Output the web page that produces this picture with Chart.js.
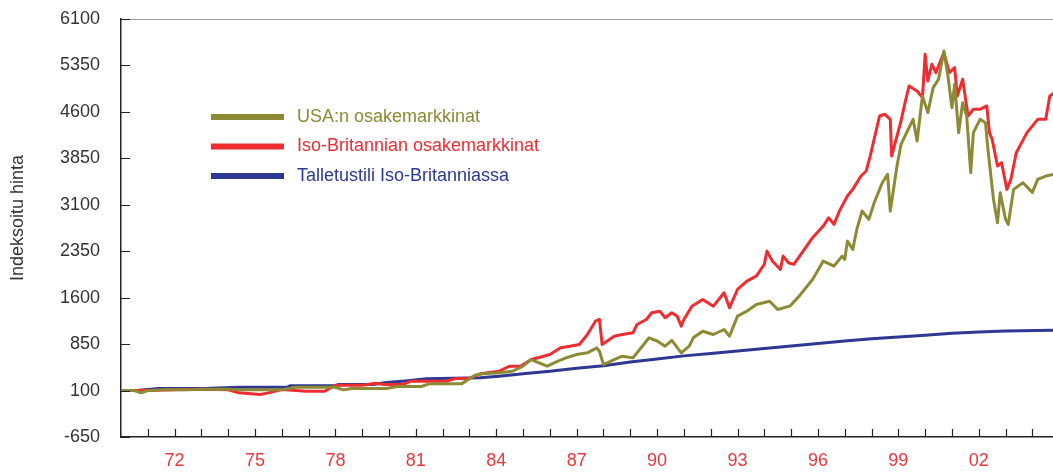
<!DOCTYPE html>
<html>
<head>
<meta charset="utf-8">
<script src="https://cdn.jsdelivr.net/npm/chart.js@4"></script>
<style>
  html, body { margin: 0; padding: 0; background: #fff; }
</style>
</head>
<body>
<canvas id="canvas" width="1053" height="472"></canvas>
<script>
// colours
let olive = "rgb(140, 138, 52)";
let red = "rgb(237, 45, 50)";
let blue = "rgb(46, 56, 146)";

var seriesNames = ["USA:n osakemarkkinat", "Iso-Britannian osakemarkkinat", "Talletustili Iso-Britanniassa"];
var yTicks = [-650, 100, 850, 1600, 2350, 3100, 3850, 4600, 5350, 6100];
var labelYears = [1972, 1975, 1978, 1981, 1984, 1987, 1990, 1993, 1996, 1999, 2002];
var yearLabels = ["72", "75", "78", "81", "84", "87", "90", "93", "96", "99", "02"];

// USA stock market
var usaYears = [1970.0, 1970.5, 1970.75, 1971.0, 1971.5, 1972.5, 1973.0, 1974.0, 1974.5, 1976.0,
  1976.5, 1978.0, 1978.3, 1978.6, 1979.9, 1980.3, 1981.2, 1981.5, 1982.7, 1983.2,
  1983.5, 1984.1, 1984.6, 1985.0, 1985.3, 1985.6, 1985.9, 1986.3, 1986.6, 1987.0,
  1987.4, 1987.75, 1987.85, 1988.0, 1988.4, 1988.7, 1989.1, 1989.5, 1989.7, 1990.0,
  1990.3, 1990.55, 1990.9, 1991.2, 1991.35, 1991.7, 1992.1, 1992.5, 1992.7, 1993.0,
  1993.35, 1993.7, 1994.2, 1994.5, 1994.95, 1995.3, 1995.8, 1996.2, 1996.6, 1996.9,
  1997.0, 1997.1, 1997.3, 1997.45, 1997.65, 1997.9, 1998.1, 1998.4, 1998.6, 1998.7,
  1998.95, 1999.1, 1999.4, 1999.55, 1999.7, 1999.9, 2000.1, 2000.3, 2000.5, 2000.7,
  2000.85, 2001.0, 2001.1, 2001.25, 2001.4, 2001.55, 2001.7, 2001.8, 2002.05, 2002.25,
  2002.35, 2002.55, 2002.7, 2002.8, 2003.0, 2003.1, 2003.3, 2003.65, 2004.0, 2004.2,
  2004.5, 2004.8];
var usaValues = [100, 100, 63, 100, 111, 111, 121, 121, 111, 111,
  153, 153, 111, 132, 132, 165, 165, 208, 208, 347,
  370, 386, 412, 493, 601, 548, 493, 574, 628, 682,
  709, 790, 735, 520, 601, 655, 628, 843, 952, 900,
  816, 910, 709, 816, 952, 1058, 1005, 1086, 978, 1301,
  1382, 1490, 1543, 1409, 1463, 1625, 1894, 2191, 2110, 2271,
  2218, 2513, 2379, 2702, 3000, 2864, 3133, 3456, 3591, 2998,
  3726, 4076, 4345, 4480, 4130, 4857, 4588, 4991, 5127, 5584,
  5180, 4669, 5045, 4265, 4749, 4534, 3618, 4265, 4480, 4426,
  3968, 3187, 2810, 3294, 2864, 2783, 3349, 3456, 3300, 3510,
  3564, 3591];

// UK stock market
var ukYears = [1970.0, 1971.0, 1972.0, 1973.0, 1974.0, 1974.4, 1975.2, 1975.5, 1976.0, 1976.9,
  1977.6, 1978.0, 1979.0, 1979.5, 1979.8, 1980.5, 1980.8, 1982.1, 1982.5, 1983.0,
  1983.4, 1984.1, 1984.5, 1984.9, 1985.3, 1985.6, 1986.0, 1986.4, 1986.75, 1987.1,
  1987.4, 1987.7, 1987.85, 1987.95, 1988.4, 1988.7, 1989.1, 1989.25, 1989.6, 1989.8,
  1990.1, 1990.3, 1990.55, 1990.75, 1990.9, 1991.0, 1991.3, 1991.7, 1992.1, 1992.5,
  1992.7, 1993.0, 1993.35, 1993.7, 1994.0, 1994.1, 1994.3, 1994.6, 1994.7, 1994.9,
  1995.1, 1995.45, 1995.8, 1996.2, 1996.4, 1996.6, 1996.8, 1997.1, 1997.3, 1997.6,
  1997.8, 1997.95, 1998.3, 1998.5, 1998.7, 1998.75, 1999.1, 1999.25, 1999.4, 1999.7,
  1999.9, 2000.0, 2000.1, 2000.25, 2000.4, 2000.7, 2000.9, 2001.1, 2001.2, 2001.4,
  2001.6, 2001.8, 2002.05, 2002.3, 2002.4, 2002.5, 2002.7, 2002.85, 2003.05, 2003.2,
  2003.4, 2003.8, 2004.2, 2004.5, 2004.65, 2004.8];
var ukValues = [100, 100, 111, 121, 111, 63, 35, 63, 116, 89,
  89, 186, 186, 218, 197, 197, 250, 250, 294, 294,
  370, 412, 493, 493, 601, 633, 682, 790, 816, 843,
  1005, 1220, 1248, 843, 978, 1005, 1032, 1167, 1248, 1356,
  1382, 1275, 1356, 1301, 1139, 1248, 1463, 1571, 1463, 1679,
  1436, 1732, 1867, 1948, 2137, 2352, 2191, 2056, 2271, 2164,
  2137, 2352, 2568, 2756, 2891, 2783, 2998, 3241, 3349, 3560,
  3645, 3887, 4534, 4561, 4480, 3887, 4453, 4749, 5018, 4937,
  4830, 5530, 5099, 5369, 5234, 5557, 5234, 5315, 4857, 5127,
  4534, 4642, 4642, 4696, 4265, 4157, 3726, 3780, 3349, 3510,
  3941, 4265, 4480, 4480, 4857, 4900];

// UK deposit account
var depositYears = [1970.0, 1970.6, 1971.4, 1973.1, 1974.4, 1976.2, 1976.3, 1978.0, 1978.1, 1979.4,
  1979.9, 1980.6, 1981.4, 1983.4, 1984.1, 1985, 1986, 1987, 1988, 1989,
  1990, 1991, 1992, 1993, 1994, 1995, 1996, 1997, 1998, 1999,
  2000, 2001, 2002, 2003, 2004.8];
var depositValues = [100, 100, 132, 132, 153, 153, 176, 176, 197, 197,
  229, 256, 289, 305, 330, 370, 410, 460, 500, 560,
  610, 660, 700, 740, 780, 820, 860, 900, 935, 965,
  995, 1025, 1045, 1060, 1075];

function points(xs, ys) {
  return xs.map(function (x, i) { return { x: x, y: ys[i] }; });
}

const decorations = {
  id: "decorations",
  afterDraw(chart) {
    const ctx = chart.ctx;
    const area = chart.chartArea;
    const xs = chart.scales.x;
    const ys = chart.scales.y;
    ctx.save();
    // top frame line
    ctx.strokeStyle = "#999";
    ctx.lineWidth = 1;
    ctx.beginPath();
    ctx.moveTo(area.left, area.top + 0.5);
    ctx.lineTo(area.right, area.top + 0.5);
    ctx.stroke();
    // inward tick marks
    ctx.strokeStyle = "#222";
    ctx.lineWidth = 1.2;
    ctx.beginPath();
    for (let yr = 1971; yr <= 2004; yr++) {
      const px = Math.round(xs.getPixelForValue(yr)) + 0.5;
      ctx.moveTo(px, area.bottom);
      ctx.lineTo(px, area.bottom - 8);
    }
    yTicks.forEach(function (v) {
      const py = Math.round(ys.getPixelForValue(v)) + 0.5;
      ctx.moveTo(area.left, py);
      ctx.lineTo(area.left + 9, py);
    });
    ctx.stroke();
    // y axis title
    ctx.fillStyle = "#333";
    ctx.font = "18px 'Liberation Sans', Arial, sans-serif";
    ctx.textAlign = "center";
    ctx.textBaseline = "middle";
    ctx.translate(18, 218);
    ctx.rotate(-Math.PI / 2);
    ctx.fillText("Indeksoitu hinta", 0, 0);
    ctx.setTransform(1, 0, 0, 1, 0, 0);
    // legend
    ctx.textAlign = "left";
    chart.data.datasets.forEach(function (ds, i) {
      const cy = 117 + i * 29.5;
      ctx.strokeStyle = ds.borderColor;
      ctx.lineWidth = 6;
      ctx.beginPath();
      ctx.moveTo(211, cy);
      ctx.lineTo(284, cy);
      ctx.stroke();
      ctx.fillStyle = ds.borderColor;
      ctx.fillText(ds.label, 297, cy);
    });
    ctx.restore();
  }
};

Chart.defaults.font.family = "'Liberation Sans', Arial, sans-serif";
Chart.defaults.font.size = 18;

const ctx = document.getElementById("canvas").getContext("2d");
const myChart = new Chart(ctx, {
  type: "line",
  data: {
    datasets: [
      { label: seriesNames[0], data: points(usaYears, usaValues), borderColor: olive },
      { label: seriesNames[1], data: points(ukYears, ukValues), borderColor: red },
      { label: seriesNames[2], data: points(depositYears, depositValues), borderColor: blue },
    ],
  },
  options: {
    responsive: false,
    animation: false,
    layout: { padding: { top: 19, right: 0, left: 0, bottom: 0 } },
    elements: {
      point: { radius: 0 },
      line: { borderWidth: 3, tension: 0, borderJoinStyle: "round" },
    },
    plugins: {
      legend: { display: false },
      tooltip: { enabled: false },
    },
    scales: {
      x: {
        type: "linear",
        min: 1970,
        max: 2004.77,
        grid: { display: false },
        border: { display: true, color: "#222", width: 1.5 },
        afterBuildTicks: function (scale) {
          scale.ticks = labelYears.map(function (v) { return { value: v }; });
        },
        afterFit: function (scale) {
          scale.height = 35;
          scale.paddingLeft = 0;
          scale.paddingRight = 0;
        },
        ticks: {
          autoSkip: false,
          maxRotation: 0,
          padding: 5,
          color: "rgb(232, 56, 62)",
          callback: function (v) {
            const i = labelYears.indexOf(v);
            return i >= 0 ? yearLabels[i] : "";
          },
        },
      },
      y: {
        min: -650,
        max: 6100,
        grid: { display: false },
        border: { display: true, color: "#222", width: 1.5 },
        afterBuildTicks: function (scale) {
          scale.ticks = yTicks.map(function (v) { return { value: v }; });
        },
        afterFit: function (scale) {
          scale.width = 121;
          scale.paddingTop = 0;
          scale.paddingBottom = 0;
        },
        ticks: {
          padding: 13,
          color: "#333",
          callback: function (v) { return String(v); },
        },
      },
    },
  },
  plugins: [decorations],
});
</script>
</body>
</html>
